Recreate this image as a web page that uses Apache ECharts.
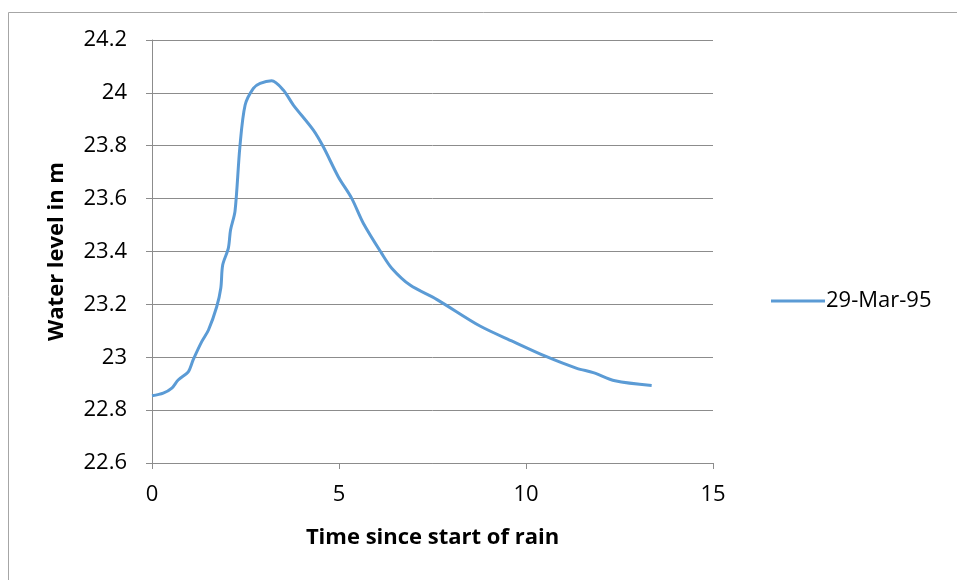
<!DOCTYPE html>
<html>
<head>
<meta charset="utf-8">
<script src="https://cdn.jsdelivr.net/npm/echarts@6/dist/echarts.min.js"></script>
<style>html,body{margin:0;padding:0;background:#fff;}#c{width:957px;height:580px;}</style>
</head>
<body>
<div id="c"></div>
<script>
var seriesName = '29-Mar-95';
var timeHours = [0, 0.30, 0.53, 0.70, 0.97, 1.10, 1.33, 1.51, 1.73, 1.84, 1.89, 2.04, 2.10, 2.22, 2.35, 2.49, 2.71, 2.89, 3.20, 3.51, 3.78, 4.31, 4.58, 4.98, 5.34, 5.65, 6.14, 6.41, 6.90, 7.61, 8.77, 9.66, 10.55, 11.36, 11.80, 12.38, 13.36];
var waterLevel = [22.854, 22.864, 22.883, 22.914, 22.945, 22.99, 23.059, 23.103, 23.191, 23.262, 23.349, 23.412, 23.481, 23.553, 23.796, 23.954, 24.017, 24.036, 24.046, 24.011, 23.954, 23.86, 23.796, 23.683, 23.601, 23.507, 23.393, 23.337, 23.273, 23.219, 23.118, 23.059, 23.002, 22.958, 22.942, 22.911, 22.893];

var data = timeHours.map(function (t, i) { return [t, waterLevel[i]]; });
var font = '"Open Sans", sans-serif';
var chart = echarts.init(document.getElementById('c'), null, {renderer: 'canvas'});
chart.setOption({
  animation: false,
  backgroundColor: '#fff',
  graphic: [{
    type: 'rect', left: 6, top: 10, silent: true,
    shape: {x: 0, y: 0, width: 960, height: 580},
    style: {fill: 'none', stroke: '#a6a6a6', lineWidth: 1}
  }],
  grid: {left: 152, right: 244, top: 40, bottom: 117, containLabel: false},
  legend: {
    orient: 'vertical', left: 766, top: 285,
    itemWidth: 54, itemHeight: 3, itemGap: 6,
    icon: 'rect',
    textStyle: {fontFamily: font, fontSize: 22, color: '#000', padding: [0, 0, 0, -4]},
    data: [{name: seriesName, icon: 'rect'}]
  },
  xAxis: {
    type: 'value', min: 0, max: 15, interval: 5,
    name: 'Time since start of rain', nameLocation: 'middle', nameGap: 64,
    nameTextStyle: {fontFamily: font, fontSize: 22, fontWeight: 'bold', color: '#000'},
    axisLine: {show: true, lineStyle: {color: '#8c8c8c', width: 1}},
    axisTick: {show: true, length: 6, lineStyle: {color: '#8c8c8c'}},
    axisLabel: {fontFamily: font, fontSize: 22, color: '#000', margin: 21},
    splitLine: {show: false}
  },
  yAxis: {
    type: 'value', min: 22.6, max: 24.2, interval: 0.2,
    name: 'Water level in m', nameLocation: 'middle', nameGap: 84, nameRotate: 90,
    nameTextStyle: {fontFamily: font, fontSize: 22, fontWeight: 'bold', color: '#000'},
    axisLine: {show: true, lineStyle: {color: '#8c8c8c', width: 1}},
    axisTick: {show: true, length: 6, lineStyle: {color: '#8c8c8c'}},
    axisLabel: {fontFamily: font, fontSize: 22, color: '#000', margin: 25,
      formatter: function (v) { return String(parseFloat(v.toFixed(1))); }},
    splitLine: {show: true, lineStyle: {color: '#8c8c8c', width: 1}}
  },
  series: [{
    name: seriesName, type: 'line', data: data,
    smooth: 0.3, showSymbol: false, symbol: 'none',
    lineStyle: {color: '#5b9bd5', width: 3},
    itemStyle: {color: '#5b9bd5'}
  }]
});
</script>
</body>
</html>
